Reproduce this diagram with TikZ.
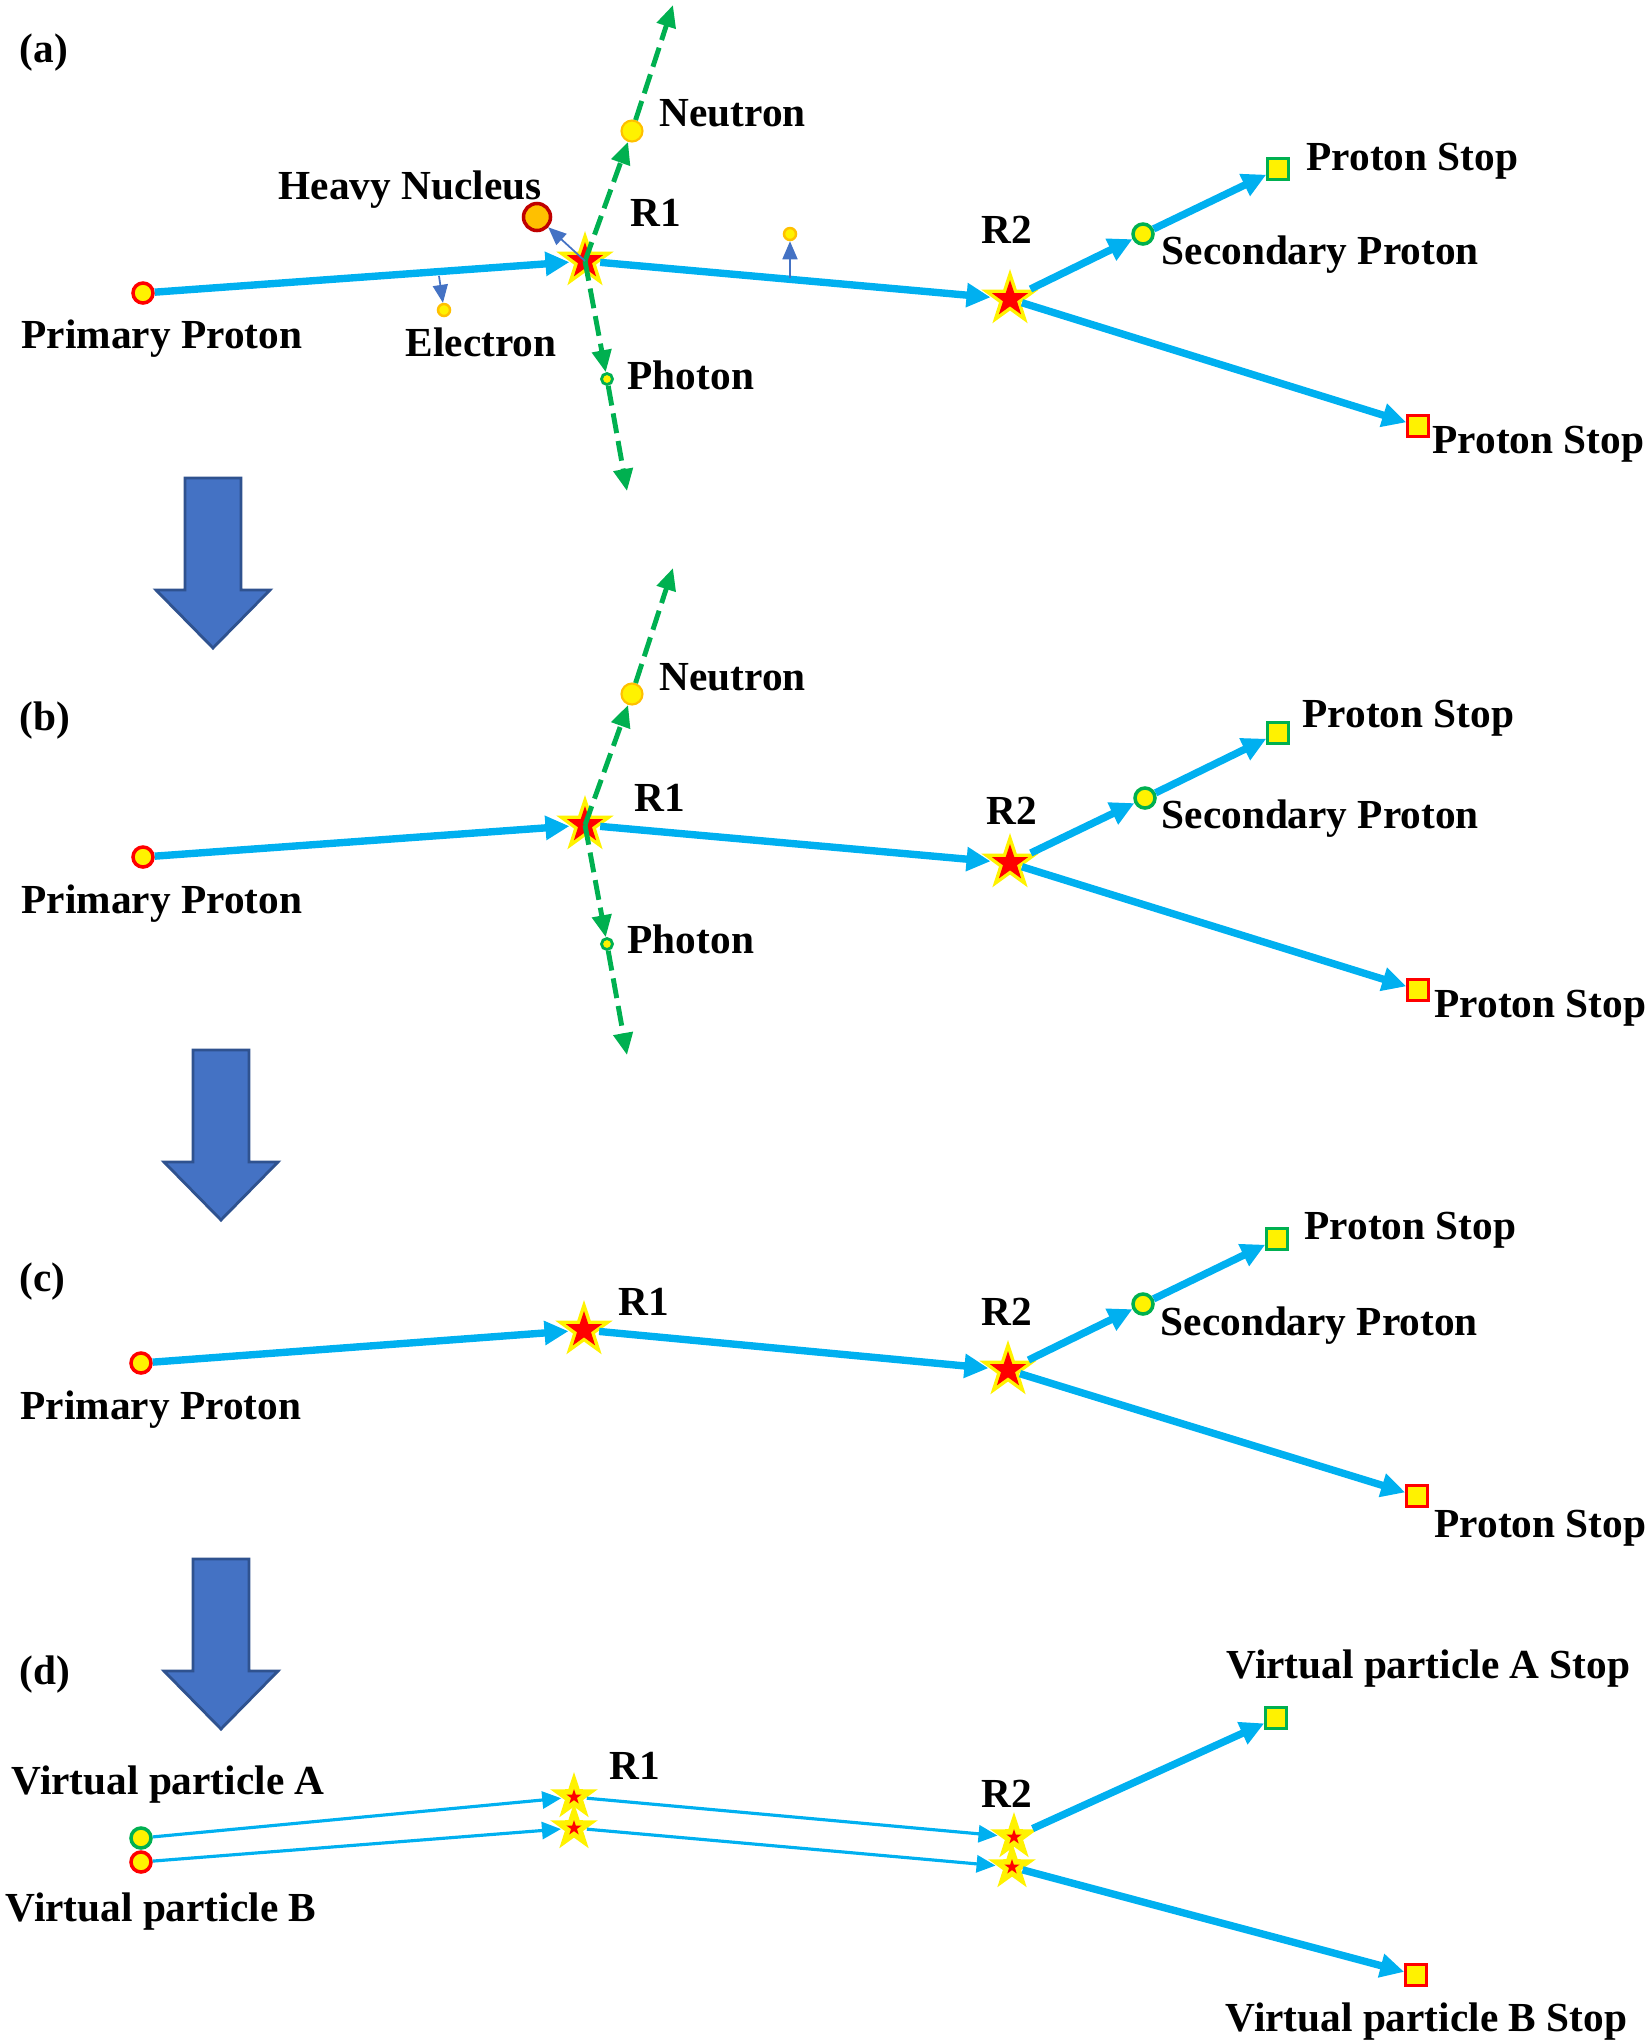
\documentclass[tikz,border=0pt]{standalone}
\usepackage{fontspec}
\setmainfont{Liberation Serif}
\usetikzlibrary{arrows.meta,shapes.geometric}
\definecolor{trk}{HTML}{00B0F0}
\definecolor{grn}{HTML}{00B050}
\definecolor{blu}{HTML}{4472C4}
\definecolor{bluln}{HTML}{2F528F}
\definecolor{org}{HTML}{FFC000}
\definecolor{dred}{HTML}{C00000}
\begin{document}
\begin{tikzpicture}[x=.01cm,y=-.01cm,
lbl/.style={font=\fontsize{11.75}{14}\selectfont\bfseries,inner sep=0pt,anchor=base west},
dot/.style={circle,inner sep=0pt,fill=yellow,minimum size=#1},
pt/.style={dot=.2cm,draw=red,line width=1pt},
sp/.style={dot=.2cm,draw=grn,line width=1pt},
nt/.style={dot=.21cm,draw=org,line width=.6pt},
ph/.style={dot=.11cm,draw=grn,line width=.8pt},
ed/.style={dot=.12cm,draw=org,line width=.7pt},
hn/.style={circle,inner sep=0pt,fill=org,draw=dred,line width=1pt,minimum size=.27cm},
sq/.style={rectangle,inner sep=0pt,fill=yellow,line width=.85pt,minimum size=.205cm},
core/.style={star,star points=5,star point ratio=2.6,inner sep=0pt,minimum size=#1},
rx/.style={core=.6cm,fill=yellow,label={[core=.38cm,fill=red]center:{}}},
vx/.style={core=.5cm,fill=yellow,label={[core=.16cm,fill=red]center:{}}},
tk/.style={trk,line width=2.1pt,-{Triangle[length=.24cm,width=.23cm]}},
tn/.style={trk,line width=.9pt,-{Triangle[length=.19cm,width=.17cm]}},
gdash/.style={grn,line width=1.4pt,dash pattern=on .2cm off .08cm,-{Triangle[length=.22cm,width=.19cm]}},
th/.style={blu,line width=.5pt,-{Triangle[length=.18cm,width=.15cm]}},
blk/.pic={\draw[fill=blu,draw=bluln,line width=.8pt](-28,0)--(28,0)--(28,112)--(57,112)--(0,170)--(-57,112)--(-28,112)--cycle;}]
\useasboundingbox (0,0) rectangle (1648,2041);
% (a)
\node[lbl] (ta) at (19,62) {(a)};
\node[pt] (pa) at (143,293) {};
\node[rx] (r1a) at (585,261) {};
\node[rx] (r2a) at (1010,299) {};
\node[sp] (sa) at (1143,234) {};
\node[sq,draw=grn] (ga) at (1278,169) {};
\node[sq,draw=red] (qa) at (1418,426) {};
\node[nt] (na) at (632,131) {};
\coordinate (na1) at (673,5);
\node[ph] (ha) at (607,379) {};
\coordinate (ha1) at (627,491);
\node[hn] (hva) at (537,217) {};
\node[ed] (ea) at (444,310) {};
\coordinate (ea0) at (439,276);
\node[ed] (ua) at (790,234) {};
\coordinate (ua0) at (790,278);
\draw[tk](pa)--(r1a);
\draw[tk](r1a)--(r2a);
\draw[tk](r2a)--(sa);
\draw[tk](sa)--(ga);
\draw[tk](r2a)--(qa);
\draw[gdash](r1a.center)--(na);
\draw[gdash](na)--(na1);
\draw[gdash](r1a.center)--(ha);
\draw[gdash](ha)--(ha1);
\draw[th](r1a.center)--(hva);
\draw[th](ea0)--(ea);
\draw[th](ua0)--(ua);
\node[lbl] (l1a) at (278,199) {Heavy Nucleus};
\node[lbl] (l2a) at (659,126) {Neutron};
\node[lbl] (l3a) at (630,226) {R1};
\node[lbl] (l4a) at (21,348) {Primary Proton};
\node[lbl] (l5a) at (405,356) {Electron};
\node[lbl] (l6a) at (627,389) {Photon};
\node[lbl] (l7a) at (981,243) {R2};
\node[lbl] (l8a) at (1306,170) {Proton Stop};
\node[lbl] (l9a) at (1161,264) {Secondary Proton};
\node[lbl] (l10a) at (1432,453) {Proton Stop};
\pic at (213,478) {blk};
% (b)
\node[lbl] (tb) at (19,730) {(b)};
\node[pt] (pb) at (143,857) {};
\node[rx] (r1b) at (585,825) {};
\node[rx] (r2b) at (1010,863) {};
\node[sp] (sb) at (1145,798) {};
\node[sq,draw=grn] (gb) at (1278,733) {};
\node[sq,draw=red] (qb) at (1418,990) {};
\node[nt] (nb) at (632,694) {};
\coordinate (nb1) at (673,568);
\node[ph] (hb) at (607,944) {};
\coordinate (hb1) at (627,1055);
\draw[tk](pb)--(r1b);
\draw[tk](r1b)--(r2b);
\draw[tk](r2b)--(sb);
\draw[tk](sb)--(gb);
\draw[tk](r2b)--(qb);
\draw[gdash](r1b.center)--(nb);
\draw[gdash](nb)--(nb1);
\draw[gdash](r1b.center)--(hb);
\draw[gdash](hb)--(hb1);
\node[lbl] (l2b) at (659,690) {Neutron};
\node[lbl] (l3b) at (634,811) {R1};
\node[lbl] (l4b) at (21,913) {Primary Proton};
\node[lbl] (l6b) at (627,953) {Photon};
\node[lbl] (l7b) at (986,824) {R2};
\node[lbl] (l8b) at (1302,727) {Proton Stop};
\node[lbl] (l9b) at (1161,828) {Secondary Proton};
\node[lbl] (l10b) at (1434,1017) {Proton Stop};
\pic at (221,1050) {blk};
% (c)
\node[lbl] (tc) at (19,1291) {(c)};
\node[pt] (pc) at (141,1363) {};
\node[rx] (r1c) at (584,1330) {};
\node[rx] (r2c) at (1008,1370) {};
\node[sp] (sc) at (1143,1304) {};
\node[sq,draw=grn] (gc) at (1277,1239) {};
\node[sq,draw=red] (qc) at (1417,1496) {};
\draw[tk](pc)--(r1c);
\draw[tk](r1c)--(r2c);
\draw[tk](r2c)--(sc);
\draw[tk](sc)--(gc);
\draw[tk](r2c)--(qc);
\node[lbl] (l3c) at (618,1315) {R1};
\node[lbl] (l4c) at (20,1419) {Primary Proton};
\node[lbl] (l7c) at (981,1325) {R2};
\node[lbl] (l8c) at (1304,1239) {Proton Stop};
\node[lbl] (l9c) at (1160,1335) {Secondary Proton};
\node[lbl] (l10c) at (1434,1537) {Proton Stop};
\pic at (221,1559) {blk};
% (d)
\node[lbl] (td) at (19,1684) {(d)};
\node[sp] (va) at (141,1838) {};
\node[pt] (vb) at (141,1862) {};
\node[vx] (r1d2) at (574,1828) {};
\node[vx] (r1d1) at (574,1797) {};
\node[vx] (r2d2) at (1012,1867) {};
\node[vx] (r2d1) at (1014,1837) {};
\node[sq,draw=grn] (gd) at (1276,1718) {};
\node[sq,draw=red] (qd) at (1416,1975) {};
\draw[tn](va)--(r1d1);
\draw[tn](vb)--(r1d2);
\draw[tn](r1d1)--(r2d1);
\draw[tn](r1d2)--(r2d2);
\draw[tk](r2d1)--(gd);
\draw[tk](r2d2)--(qd);
\node[lbl] (l1d) at (11,1794) {Virtual particle A};
\node[lbl] (l2d) at (5,1921) {Virtual particle B};
\node[lbl] (l3d) at (609,1779) {R1};
\node[lbl] (l4d) at (981,1807) {R2};
\node[lbl] (l5d) at (1226,1678) {Virtual particle A Stop};
\node[lbl] (l6d) at (1225,2031) {Virtual particle B Stop};
\end{tikzpicture}
\end{document}
